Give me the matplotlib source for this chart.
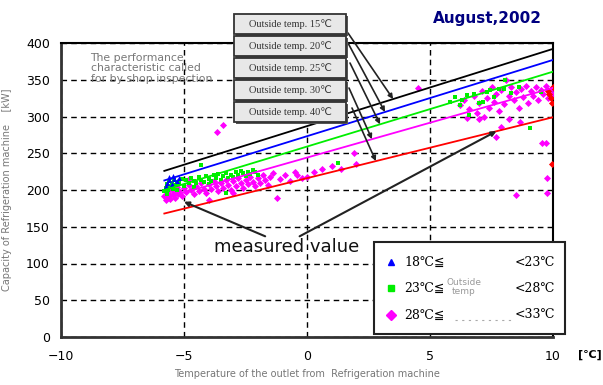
import numpy as np
import matplotlib
matplotlib.use("Agg")
import matplotlib.pyplot as plt
from matplotlib.patches import Rectangle

# rated capacity lines from the shop inspection (outlet temp -> kW)
line_x = [-5.8, 10.0]
line_15 = [226, 392]
line_20 = [213, 377]
line_25 = [200, 361]
line_30 = [189, 339]
line_40 = [168, 299]
line_labels = ["Outside temp. 15\u2103", "Outside temp. 20\u2103", "Outside temp. 25\u2103",
               "Outside temp. 30\u2103", "Outside temp. 40\u2103"]
line_colors = ["black", "blue", "#00ee00", "magenta", "red"]

# measured values, 18-23 C outside
blue_x = [-5.75, -5.7, -5.6, -5.5, -5.4, -5.3, -5.2, -5.6, -5.45]
blue_y = [205, 210, 213, 208, 215, 212, 216, 218, 219]

# measured values, 23-28 C outside
green_x = [-5.8, -5.75, -5.7, -5.65, -5.6, -5.55, -5.5, -5.45, -5.4, -5.35, -5.3, -5.2, -5.1,
           -5.0, -4.9, -4.8, -4.7, -4.6, -4.5, -4.4, -4.3, -4.2, -4.1, -4.0, -3.9, -3.8, -3.7,
           -3.6, -3.5, -3.4, -3.3, -3.2, -3.1, -3.0, -2.9, -2.8, -2.7, -2.6, -2.5, -2.4, -2.3,
           -2.2, -2.1, -2.0, -4.3, -3.3, -5.7, -5.3, -4.6, -4.0,
           5.8, 6.0, 6.3, 6.5, 6.6, 6.8, 7.0, 7.15, 7.3, 7.44, 7.6, 7.8, 8.0, 8.05, 8.3, 8.6,
           9.07, 1.26, 6.2, 9.5]
green_y = [198, 203, 208, 200, 212, 205, 210, 202, 214, 207, 211, 209, 215, 206, 213, 210, 216,
           212, 209, 218, 214, 211, 219, 215, 212, 220, 217, 222, 214, 219, 223, 216, 221, 218,
           224, 220, 226, 223, 219, 225, 222, 227, 224, 221, 234, 196, 195, 200, 204, 208,
           320, 326, 322, 329, 302, 331, 318, 320, 333, 336, 327, 338, 337, 350, 332, 340,
           284, 237, 315, 334]

# measured values, 28-33 C outside
pink_x = [-5.8, -5.75, -5.7, -5.65, -5.6, -5.55, -5.5, -5.45, -5.4, -5.35, -5.3, -5.25, -5.2,
          -5.1, -5.0, -4.9, -4.8, -4.7, -4.6, -4.5, -4.4, -4.3, -4.2, -4.1, -4.0, -3.9, -3.8,
          -3.7, -3.6, -3.5, -3.4, -3.3, -3.2, -3.1, -3.0, -2.9, -2.8, -2.7, -2.6, -2.5, -2.4,
          -2.3, -2.2, -2.1, -2.0, -1.9, -1.8, -1.7, -1.6, -1.5, -1.4, -1.2, -1.1, -0.9, -0.7,
          -0.5, -0.4, -0.2, 0.0, 0.3, 0.6, 1.0, 1.4, 1.9, -3.66, -3.4, 2.0, -4.8, -4.0, -3.0,
          4.5, 8.1, 6.2, 6.4, 6.6, 6.8, 6.9, 7.0, 7.1, 7.2, 7.3, 7.4, 7.5, 7.6, 7.7, 7.8, 7.9,
          8.0, 8.2, 8.3, 8.4, 8.5, 8.6, 8.7, 8.8, 8.9, 9.0, 9.1, 9.2, 9.3, 9.4, 9.5, 9.6, 9.7,
          9.8, 9.9, 10.0, 7.7, 8.66, 8.2, 7.9, 8.5, 9.76, 9.76, 9.55, 9.7, 6.5, 7.0]
pink_y = [192, 186, 198, 190, 195, 188, 201, 193, 197, 189, 204, 195, 199, 192, 203, 197, 207,
          200, 194, 205, 199, 210, 202, 196, 208, 201, 212, 205, 198, 210, 203, 214, 207, 200,
          212, 205, 216, 209, 203, 214, 208, 218, 211, 205, 216, 210, 220, 213, 207, 218, 223,
          189, 215, 221, 212, 224, 220, 216, 218, 225, 229, 232, 228, 250, 279, 288, 235, 215,
          187, 196,
          339, 350, 315, 322, 310, 328, 305, 318, 335, 300, 325, 312, 340, 320, 330, 308, 336,
          317, 328, 340, 322, 333, 312, 338, 326, 342, 318, 335, 328, 340, 322, 336, 330, 342,
          325, 338, 330, 272, 292, 296, 286, 193, 216, 196, 264, 264, 298, 296]

# above 33 C outside
red_x = [9.8, 9.9, 10.0, 9.95, 9.85, 9.96]
red_y = [335, 325, 340, 318, 330, 235]

fig = plt.figure(figsize=(6.03, 3.85), dpi=100)
W, H = 603, 385


def fx(px):
    return px / W


def fy(py):
    return 1 - py / H


ax = fig.add_axes([fx(61), fy(337), fx(553) - fx(61), fy(43) - fy(337)])
ax.set_xlim(-10, 10)
ax.set_ylim(0, 400)
ax.set_xticks([-10, -5, 0, 5, 10])
ax.set_yticks(range(0, 401, 50))
ax.tick_params(length=0, labelsize=9, pad=8)
ax.tick_params(axis="x", pad=9)
ax.grid(True, color="black", linestyle=(0, (4, 3)), linewidth=1.0)
for side in ["left", "bottom"]:
    ax.spines[side].set_linewidth(2.0)
    ax.spines[side].set_color("#333333")
for side in ["top", "right"]:
    ax.spines[side].set_linewidth(1.5)

ax.scatter(pink_x, pink_y, marker="D", s=13, color="magenta", linewidths=0, zorder=3)
ax.scatter(green_x, green_y, marker="s", s=10, color="#00ee00", linewidths=0, zorder=3)
ax.scatter(blue_x, blue_y, marker="^", s=13, color="blue", linewidths=0, zorder=3)
ax.scatter(red_x, red_y, marker="D", s=13, color="red", linewidths=0, zorder=3)

lines = [line_15, line_20, line_25, line_30, line_40]
for ys, c in zip(lines, line_colors):
    ax.plot(line_x, ys, color=c, linewidth=1.3, zorder=4)

# labelled boxes above the plot with arrows onto each line
box_tops = [14, 36, 58, 80, 102]
arrow_from = [(348, 33), (348, 43), (350, 63), (349, 88), (352, 108)]
arrow_to_x = [3.5, 3.17, 2.97, 2.64, 2.8]
for i, (lab, ys) in enumerate(zip(line_labels, lines)):
    top = box_tops[i]
    fig.add_artist(Rectangle((fx(236), fy(top + 22)), fx(112), fy(0) - fy(20),
                             transform=fig.transFigure, facecolor="#555555",
                             edgecolor="none", zorder=5))
    fig.add_artist(Rectangle((fx(234), fy(top + 20)), fx(112), fy(0) - fy(20),
                             transform=fig.transFigure, facecolor="#e8e8e8",
                             edgecolor="#333333", linewidth=1.3, zorder=6))
    fig.text(fx(290), fy(top + 10), lab, ha="center", va="center", fontsize=7.5,
             family=["Liberation Serif", "DejaVu Sans"], color="#333333", zorder=7)
    tx = arrow_to_x[i]
    ty = np.interp(tx, line_x, ys)
    ax.annotate("", xy=(tx, ty), xytext=(fx(arrow_from[i][0]), fy(arrow_from[i][1])),
                textcoords="figure fraction",
                arrowprops=dict(arrowstyle="-|>", color="#222222", lw=1.2,
                                mutation_scale=7, shrinkA=0, shrinkB=0),
                annotation_clip=False, zorder=6)

ax.text(-8.8, 387, "The performance\ncharacteristic called\nfor by shop inspection",
        ha="left", va="top", fontsize=7.8, color="#777777", linespacing=1.1)

# measured value label and its arrows
ax.text(-3.8, 122, "measured value", fontsize=13, color="#111111", ha="left", va="center",
        zorder=6)
ax.annotate("", xy=(-5.0, 184), xytext=(-1.7, 137),
            arrowprops=dict(arrowstyle="-|>", color="#222222", lw=1.5, mutation_scale=7,
                            shrinkA=0, shrinkB=0), zorder=5)
ax.annotate("", xy=(7.7, 280), xytext=(-0.3, 137),
            arrowprops=dict(arrowstyle="-|>", color="#222222", lw=1.5, mutation_scale=7,
                            shrinkA=0, shrinkB=0), zorder=5)

# legend box
fig.add_artist(Rectangle((fx(374), fy(334)), fx(565) - fx(374), fy(242) - fy(334),
                         transform=fig.transFigure, facecolor="white",
                         edgecolor="#222222", linewidth=1.5, zorder=8))
leg_rows = [262, 288, 315]
leg_markers = [("^", "blue"), ("s", "#00ee00"), ("D", "magenta")]
leg_low = ["18\u2103\u2266", "23\u2103\u2266", "28\u2103\u2266"]
leg_high = ["<23\u2103", "<28\u2103", "<33\u2103"]
for row, (mk, c), lo, hi in zip(leg_rows, leg_markers, leg_low, leg_high):
    fig.add_artist(plt.Line2D([fx(391)], [fy(row)], marker=mk, color=c, markersize=5,
                              linestyle="none", transform=fig.transFigure, zorder=9))
    fig.text(fx(404), fy(row), lo, fontsize=9, ha="left", va="center", zorder=9,
             family=["DejaVu Serif", "DejaVu Sans"])
    fig.text(fx(555), fy(row), hi, fontsize=9, ha="right", va="center", zorder=9,
             family=["DejaVu Serif", "DejaVu Sans"])
fig.text(fx(464), fy(287), "Outside\ntemp", fontsize=6.5, ha="center", va="center",
         color="#999999", zorder=9, linespacing=1.1)
fig.add_artist(plt.Line2D([fx(455), fx(515)], [fy(320), fy(320)], color="#aaaaaa",
                          linestyle=(0, (2, 4)), lw=0.8, transform=fig.transFigure, zorder=9))

ax.set_xlabel("Temperature of the outlet from  Refrigeration machine", fontsize=7,
              color="#777777", labelpad=5)
ax.set_ylabel("Capacity of Refrigeration machine    [kW]", fontsize=7, color="#777777",
              labelpad=10)
fig.text(fx(590), fy(355), "[\u2103]", fontsize=8, fontweight="bold", ha="center", va="center")
fig.text(fx(487), fy(18), "August,2002", fontsize=11, fontweight="bold", color="#000080",
         ha="center", va="center")

fig.savefig("out.png", dpi=100)
